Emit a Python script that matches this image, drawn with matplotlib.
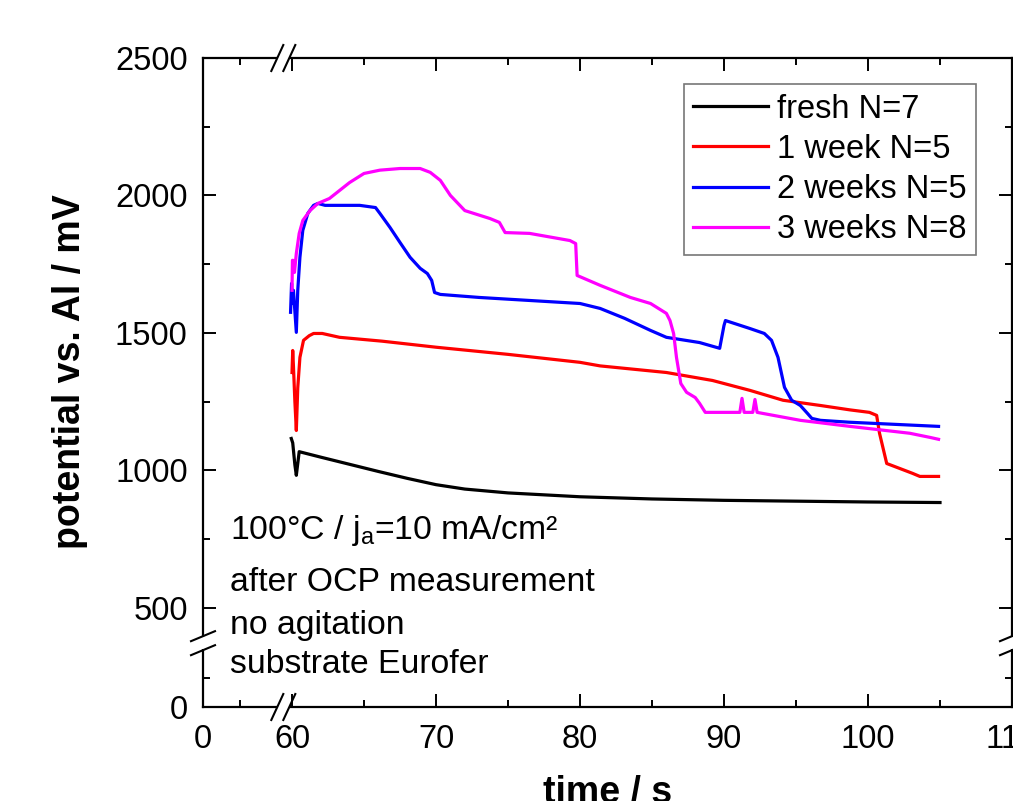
import numpy as np
import matplotlib
matplotlib.use("Agg")
import matplotlib.pyplot as plt

plt.rcParams['font.family'] = ['Liberation Sans', 'DejaVu Sans']
plt.rcParams['mathtext.fontset'] = 'custom'
plt.rcParams['mathtext.rm'] = 'Liberation Sans'
plt.rcParams['mathtext.default'] = 'regular'

# ======================= data ==================================================
fresh_t = [59.95, 60.05, 60.2, 60.3, 60.5, 62, 64, 66, 68, 70, 72, 75, 80, 85, 90, 95, 100, 105]
fresh_v = [1116, 1100, 1020, 982, 1068, 1048, 1022, 996, 971, 948, 932, 918, 904, 896, 891, 888, 885, 883]

week1_t = [60.0, 60.05, 60.1, 60.2, 60.3, 60.4, 60.55, 60.8, 61.2, 61.5, 62.1, 63.3, 66.25, 70, 75, 80,
           81.4, 86, 89.2, 91.8, 94.1, 96.7, 98.75, 100.1, 100.6, 100.8, 101.3, 102.2, 103.1, 103.6, 104.9]
week1_v = [1356, 1436, 1380, 1250, 1145, 1300, 1411, 1473, 1490, 1498, 1498, 1484, 1470, 1448, 1422, 1393,
           1380, 1356, 1327, 1291, 1255, 1236, 1220, 1211, 1200, 1135, 1025, 1007, 989, 978, 978]

week2_t = [59.9, 59.97, 60.03, 60.1, 60.3, 60.4, 60.55, 60.75, 61.1, 61.5, 61.8, 62.3, 64, 64.7, 65.8,
           66.1, 66.8, 67.5, 68.2, 68.9, 69.4, 69.7, 69.9, 70.3, 73, 80, 81.4, 83.1, 84.9, 86, 88.3,
           89.7, 90.0, 90.1, 91.8, 92.8, 93.3, 93.75, 94.2, 94.7, 95.3, 95.8, 96.1, 96.7, 98.75, 104.9]
week2_v = [1575, 1680, 1607, 1655, 1502, 1655, 1775, 1873, 1935, 1964, 1971, 1964, 1964, 1964, 1956,
           1935, 1884, 1829, 1775, 1735, 1716, 1691, 1647, 1640, 1629, 1607, 1589, 1553, 1509, 1484, 1465,
           1444, 1527, 1545, 1516, 1498, 1473, 1411, 1302, 1255, 1236, 1207, 1189, 1182, 1175, 1160]

week3_t = [60.0, 60.03, 60.08, 60.17, 60.3, 60.5, 60.75, 61.25, 61.8, 62.6, 63.3, 64, 65, 66.1, 67.5,
           68.9, 69.6, 70.3, 71, 72, 73.75, 74.4, 74.8, 76.5, 79.3, 79.7, 79.8, 81.4, 83.5, 84.9, 86,
           86.25, 86.5, 86.7, 87, 87.4, 88, 88.3, 88.7, 91.1, 91.25, 91.4, 92.0, 92.15, 92.3, 95.3,
           98.75, 102.9, 104.3, 104.9]
week3_v = [1655, 1764, 1764, 1720, 1789, 1862, 1909, 1945, 1971, 1989, 2018, 2047, 2080, 2092, 2098,
           2098, 2084, 2055, 2000, 1945, 1916, 1902, 1865, 1862, 1836, 1825, 1709, 1673, 1629, 1607, 1571,
           1545, 1498, 1411, 1316, 1284, 1265, 1244, 1211, 1211, 1262, 1211, 1211, 1258, 1211, 1182,
           1160, 1135, 1120, 1113]

labels = ["fresh N=7", "1 week N=5", "2 weeks N=5", "3 weeks N=8"]
colors = ["black", "#ff0000", "#0000ff", "#ff00ff"]

notes = ["100°C / j$_a$=10 mA/cm²", "after OCP measurement", "no agitation", "substrate Eurofer"]

x_major = [0, 60, 70, 80, 90, 100, 110]
x_minor = [5, 65, 75, 85, 95, 105]
y_major = [0, 500, 1000, 1500, 2000, 2500]
y_minor = [250, 750, 1250, 1750, 2250]

# broken axes done as a piecewise linear scale (value knots -> pixel knots)
x_knots, x_pix = [0, 10, 59.5, 110], [0, 74, 81.8, 809]
y_knots, y_pix = [0, 330, 390, 2500], [0, 38.3, 68.9, 648.7]


def piecewise(v, xs, ys):
    v = np.asarray(v, float)
    out = np.interp(v, xs, ys)
    out = np.where(v < xs[0], ys[0] + (v - xs[0]) * (ys[1] - ys[0]) / (xs[1] - xs[0]), out)
    out = np.where(v > xs[-1], ys[-1] + (v - xs[-1]) * (ys[-1] - ys[-2]) / (xs[-1] - xs[-2]), out)
    return out


def draw_break(ax, frac, axis):
    # two slashes over a white gap in the spine(s)
    kw = dict(transform=ax.transAxes, clip_on=False, zorder=10)
    dx, dy = 1.0 / 809, 1.0 / 649
    if axis == 'x':
        for y0 in (0, 1):
            ax.plot([frac - 6 * dx, frac + 6 * dx], [y0, y0], color='white', lw=4, solid_capstyle='butt', **kw)
            for s in (-6, 6):
                ax.plot([frac + (s - 6) * dx, frac + (s + 6) * dx], [y0 - 13 * dy, y0 + 13 * dy],
                        color='black', lw=1.5, **kw)
    else:
        for x0 in (0, 1):
            ax.plot([x0, x0], [frac - 6 * dy, frac + 6 * dy], color='white', lw=4, solid_capstyle='butt', **kw)
            for s in (-7, 7):
                ax.plot([x0 - 12 * dx, x0 + 12 * dx], [frac + (s - 5) * dy, frac + (s + 5) * dy],
                        color='black', lw=1.5, **kw)


fig = plt.figure(figsize=(10.13, 8.01), dpi=100)
ax = fig.add_axes([203 / 1013, 94 / 801, 809 / 1013, 649 / 801])

ax.set_xscale('function', functions=(lambda v: piecewise(v, x_knots, x_pix),
                                     lambda p: piecewise(p, x_pix, x_knots)))
ax.set_yscale('function', functions=(lambda v: piecewise(v, y_knots, y_pix),
                                     lambda p: piecewise(p, y_pix, y_knots)))

series = [(fresh_t, fresh_v), (week1_t, week1_v), (week2_t, week2_v), (week3_t, week3_v)]
for (t, v), lab, col in zip(series, labels, colors):
    ax.plot(t, v, color=col, lw=2.3, label=lab, solid_joinstyle='round')

ax.set_xlim(0, 110)
ax.set_ylim(0, 2500)
ax.set_xticks(x_major)
ax.set_xticks(x_minor, minor=True)
ax.set_yticks(y_major)
ax.set_yticks(y_minor, minor=True)
ax.xaxis.set_major_formatter(matplotlib.ticker.FuncFormatter(lambda v, p: "%d" % v))
ax.yaxis.set_major_formatter(matplotlib.ticker.FuncFormatter(lambda v, p: "%d" % v))

ax.tick_params(which='both', direction='in', top=True, right=True, width=1.4, labelsize=23.5)
ax.tick_params(which='major', length=9.5)
ax.tick_params(which='minor', length=5)
ax.tick_params(axis='y', pad=11)
ax.tick_params(axis='x', pad=12)
for sp in ax.spines.values():
    sp.set_linewidth(1.6)

ax.set_ylabel("potential vs. Al / mV", fontsize=27, fontweight='bold')
ax.yaxis.set_label_coords(-0.142, 0.516)
ax.set_xlabel("time / s", fontsize=27, fontweight='bold', labelpad=15)

leg = ax.legend(loc='upper right', bbox_to_anchor=(0.9555, 0.96), borderaxespad=0, fontsize=23.5,
                handlelength=2.3, handletextpad=0.25, labelspacing=0.28, borderpad=0.3,
                fancybox=False, framealpha=1)
leg.get_frame().set_edgecolor('#777777')
leg.get_frame().set_linewidth(1.2)

note_y = [0.272, 0.192, 0.126, 0.065]
for txt, yy in zip(notes, note_y):
    ax.text(0.033, yy, txt, transform=ax.transAxes, fontsize=24.3, va='center', ha='left')

x_frac = piecewise(50, x_knots, x_pix) / x_pix[-1]
y_frac = piecewise(380, y_knots, y_pix) / y_pix[-1]
draw_break(ax, float(x_frac), 'x')
draw_break(ax, float(y_frac), 'y')

fig.savefig("out.png", dpi=100)
